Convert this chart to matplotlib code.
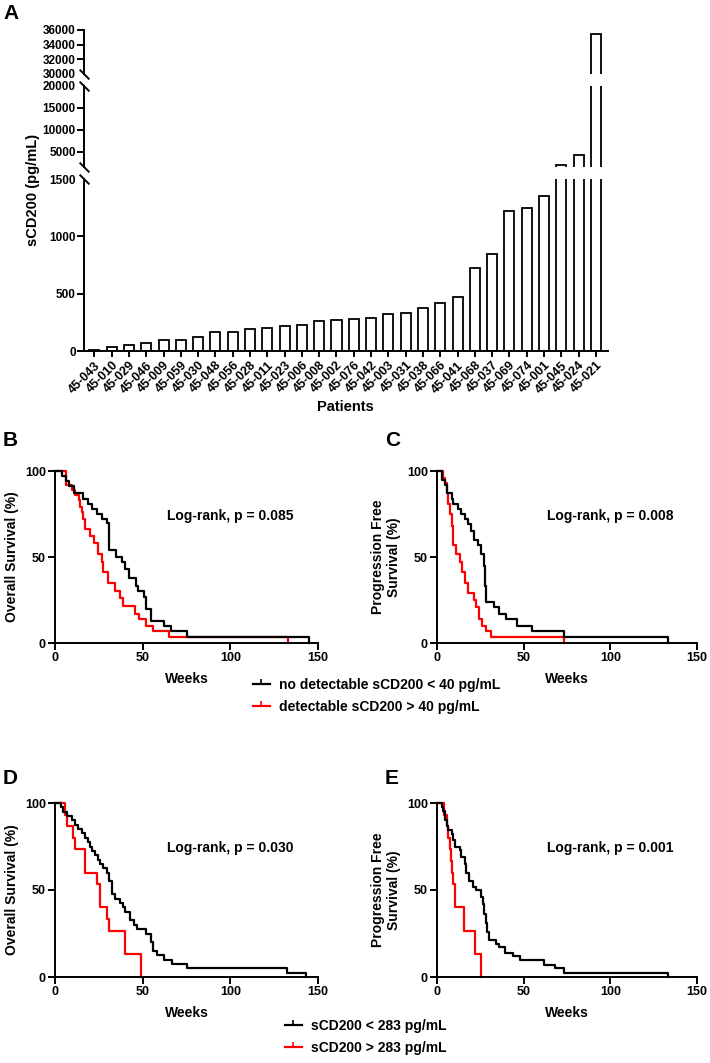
import matplotlib
matplotlib.use("Agg")
import numpy as np
import matplotlib.pyplot as plt
from matplotlib.lines import Line2D

plt.rcParams["font.family"] = ["Liberation Sans", "DejaVu Sans"]
plt.rcParams["font.weight"] = "bold"
plt.rcParams["axes.labelweight"] = "bold"
plt.rcParams["axes.linewidth"] = 1.4

# ---- panel A: sCD200 per patient
patients = ["45-043", "45-010", "45-029", "45-046", "45-009", "45-059", "45-030",
            "45-048", "45-056", "45-028", "45-011", "45-023", "45-006", "45-008",
            "45-002", "45-076", "45-042", "45-003", "45-031", "45-038", "45-066",
            "45-041", "45-068", "45-037", "45-069", "45-074", "45-001", "45-045",
            "45-024", "45-021"]
scd200 = [10, 38, 48, 68, 95, 95, 120, 162, 167, 190, 200, 218, 230, 262,
          270, 278, 288, 322, 330, 375, 420, 470, 722, 846, 1220, 1245, 1350,
          1850, 4300, 35500]

# ---- KM curves (weeks, % surviving)
# B: overall survival, 40 pg/mL cut-off
os40_lo_t = [0, 4, 6, 8, 11, 16, 19, 21, 24, 27, 29.5, 31, 35, 38, 40, 42, 46,
             47.5, 50.5, 52, 55, 62, 66, 75, 145]
os40_lo_s = [100, 97, 94, 91, 87, 84, 81, 78, 75, 72, 70, 54, 50, 47, 43, 38, 33,
             30, 27, 20, 13, 10, 7, 3.3, 0]
os40_hi_t = [0, 6.5, 9.5, 11.5, 13.5, 14.5, 15.2, 16.2, 17.1, 20, 22, 24.7, 26.6,
             27.6, 30.4, 34.2, 37.1, 39, 45.6, 48, 52, 56, 65, 133]
os40_hi_s = [100, 92, 89, 86, 83, 79, 76, 72, 66, 62, 58, 52, 47, 41, 35, 30, 26,
             21.5, 17, 14, 10, 7, 3.5, 0]

# C: progression free survival, 40 pg/mL cut-off
pfs40_lo_t = [0, 2.6, 4.6, 5.5, 8.4, 9.3, 12.1, 14, 15.9, 17.8, 19.6, 21.5, 23.4,
              25.3, 27, 27.5, 28.1, 32.8, 36, 40, 46, 55, 73, 133]
pfs40_lo_s = [100, 95, 92, 87, 84, 81, 78, 75, 72, 69, 65, 60, 57, 52, 45, 33, 24,
              21, 17, 14, 10, 7, 3.5, 0]
pfs40_hi_t = [0, 3.6, 4.6, 5.5, 6.5, 7.4, 8.4, 9.3, 11.2, 13.1, 14.5, 15.9, 17.8,
              21.5, 22.5, 24, 26, 28, 31, 73]
pfs40_hi_s = [100, 96, 93, 87, 81, 75, 68, 57, 52, 47, 41, 35, 29, 25, 21, 14, 10,
              7, 3.5, 0]

# D: overall survival, 283 pg/mL cut-off
os283_lo_t = [0, 3.2, 4.8, 6.7, 9.5, 11.4, 13.3, 15.2, 17.1, 19, 20, 20.9, 22.8,
              24.7, 25.7, 27.6, 29.5, 31, 32.3, 34, 37, 38.5, 40, 42.8, 45, 47, 52,
              55, 56, 58, 62, 67, 75, 132.5, 143]
os283_lo_s = [100, 97.5, 95, 92.5, 90, 87.5, 85, 82.5, 80, 77.5, 75, 72.5, 70,
              67.5, 65, 62.5, 60, 55, 47.5, 45, 42.5, 40, 37.5, 32.5, 30, 27.5, 25,
              20, 15, 12.5, 10, 7.5, 5, 2.5, 0]
os283_hi_t = [0, 5.7, 6.7, 10.5, 11.4, 17.1, 23.8, 25.7, 29.5, 31, 40, 49]
os283_hi_s = [100, 93.3, 86.7, 80, 73.3, 60, 53.3, 40, 33.3, 26.7, 13.3, 0]

# E: progression free survival, 283 pg/mL cut-off
pfs283_lo_t = [0, 2.6, 3.6, 4.6, 5.5, 6.5, 8.4, 9.3, 10.3, 13.1, 14, 15.9, 16.9,
               18.7, 20.5, 22.5, 25.3, 26.3, 27.2, 28.2, 29.1, 30, 33.8, 36, 39, 44,
               48, 62, 68, 73, 133]
pfs283_lo_s = [100, 97.6, 95.2, 90.5, 87, 84.5, 82, 79, 75, 73, 69, 65, 60, 55,
               52, 50, 46, 42, 36, 31, 26, 21, 19, 17, 14, 12, 10, 7, 5, 2.5, 0]
pfs283_hi_t = [0, 4, 5.5, 6.5, 7.4, 8.2, 8.8, 9.5, 10.2, 15.8, 22.1, 25.3]
pfs283_hi_s = [100, 93.3, 86.7, 80, 73.3, 66.7, 60, 53.3, 40, 26.7, 13.3, 0]

W, H = 710, 1063
fig = plt.figure(figsize=(W / 100, H / 100), dpi=100)


def box(l, t, r, b):
    return [l / W, 1 - b / H, (r - l) / W, (b - t) / H]


# ---------------- panel A (broken y axis, three segments)
ax_lo = fig.add_axes(box(84, 179, 608, 351))
ax_mid = fig.add_axes(box(84, 86, 608, 167))
ax_hi = fig.add_axes(box(84, 30, 608, 74))
x = np.arange(len(patients))
segs = [(ax_lo, (0, 1500), [0, 500, 1000, 1500], 1500),
        (ax_mid, (1500, 20000), [5000, 10000, 15000, 20000], 20000),
        (ax_hi, (30000, 36000), [30000, 32000, 34000, 36000], 30000)]
for ax, lim, ticks, hidden in segs:
    ax.bar(x, scd200, width=0.58, facecolor="white", edgecolor="black", linewidth=1.3)
    ax.set_xlim(-0.6, 29.7)
    ax.set_ylim(*lim)
    ax.set_yticks(ticks)
    ax.tick_params(axis="y", length=5, width=1.4, labelsize=8.5, pad=1)
    for t, v in zip(ax.yaxis.get_major_ticks(), ticks):
        if v == hidden:
            t.tick1line.set_visible(False)
    ax.spines["top"].set_visible(False)
    ax.spines["right"].set_visible(False)

for ax in (ax_mid, ax_hi):
    ax.spines["bottom"].set_visible(False)
    ax.set_xticks([])

ax_lo.set_xticks(x)
ax_lo.set_xticklabels(patients, rotation=45, ha="right", rotation_mode="anchor", fontsize=9)
ax_lo.tick_params(axis="x", length=4, width=1.4, pad=2)

slash = dict(marker=[(-1, 1), (1, -1)], markersize=7, linestyle="none",
             color="black", mec="black", mew=1.4, clip_on=False)
ax_lo.plot([0], [1], transform=ax_lo.transAxes, **slash)
ax_mid.plot([0, 0], [0, 1], transform=ax_mid.transAxes, **slash)
ax_hi.plot([0], [0], transform=ax_hi.transAxes, **slash)

fig.text(33 / W, 1 - 190 / H, "sCD200 (pg/mL)", rotation=90, ha="center",
         va="center", fontsize=10.5)
fig.text(345 / W, 1 - 407 / H, "Patients", ha="center", va="center", fontsize=10.5)


# ---------------- KM panels
def km(ax, lo_t, lo_s, hi_t, hi_s, ylabel, ptext):
    ax.step(hi_t, hi_s, where="post", color="#ff0000", lw=1.6, clip_on=False)
    ax.step(lo_t, lo_s, where="post", color="black", lw=1.6, clip_on=False)
    ax.set_xlim(0, 150)
    ax.set_ylim(0, 100)
    ax.set_xticks([0, 50, 100, 150])
    ax.set_yticks([0, 50, 100])
    ax.tick_params(length=5, width=1.4, labelsize=9, pad=1.5)
    ax.spines["top"].set_visible(False)
    ax.spines["right"].set_visible(False)
    ax.set_xlabel("Weeks", fontsize=10, labelpad=6)
    ax.set_ylabel(ylabel, fontsize=10, labelpad=4)
    ax.text(100, 74, ptext, ha="center", va="center", fontsize=10)


axB = fig.add_axes(box(55, 471, 318, 643))
axC = fig.add_axes(box(437, 471, 697, 643))
axD = fig.add_axes(box(55, 803, 318, 977))
axE = fig.add_axes(box(437, 803, 697, 977))

km(axB, os40_lo_t, os40_lo_s, os40_hi_t, os40_hi_s, "Overall Survival (%)",
   "Log-rank, p = 0.085")
km(axC, pfs40_lo_t, pfs40_lo_s, pfs40_hi_t, pfs40_hi_s,
   "Progression Free\nSurvival (%)", "Log-rank, p = 0.008")
km(axD, os283_lo_t, os283_lo_s, os283_hi_t, os283_hi_s, "Overall Survival (%)",
   "Log-rank, p = 0.030")
km(axE, pfs283_lo_t, pfs283_lo_s, pfs283_hi_t, pfs283_hi_s,
   "Progression Free\nSurvival (%)", "Log-rank, p = 0.001")

# legends
def handle(c):
    return Line2D([0], [0], color=c, lw=1.6, marker=2, markersize=3.5, mew=1.2)

fig.legend([handle("black"), handle("#ff0000")],
           ["no detectable sCD200 < 40 pg/mL", "detectable sCD200 > 40 pg/mL"],
           loc="upper left", bbox_to_anchor=(253 / W, 1 - 678 / H), frameon=False,
           borderpad=0, borderaxespad=0, handlelength=1.2, handletextpad=0.7,
           labelspacing=0.6, numpoints=1, fontsize=10)
fig.legend([handle("black"), handle("#ff0000")],
           ["sCD200 < 283 pg/mL", "sCD200 > 283 pg/mL"],
           loc="upper left", bbox_to_anchor=(285 / W, 1 - 1019 / H), frameon=False,
           borderpad=0, borderaxespad=0, handlelength=1.2, handletextpad=0.7,
           labelspacing=0.6, numpoints=1, fontsize=10)

# panel letters
for letter, px, py in [("A", 3, 4), ("B", 3, 431), ("C", 385, 431),
                       ("D", 3, 769), ("E", 385, 769)]:
    fig.text(px / W, 1 - py / H, letter, ha="left", va="top", fontsize=15)

fig.savefig("out.png", dpi=100)
